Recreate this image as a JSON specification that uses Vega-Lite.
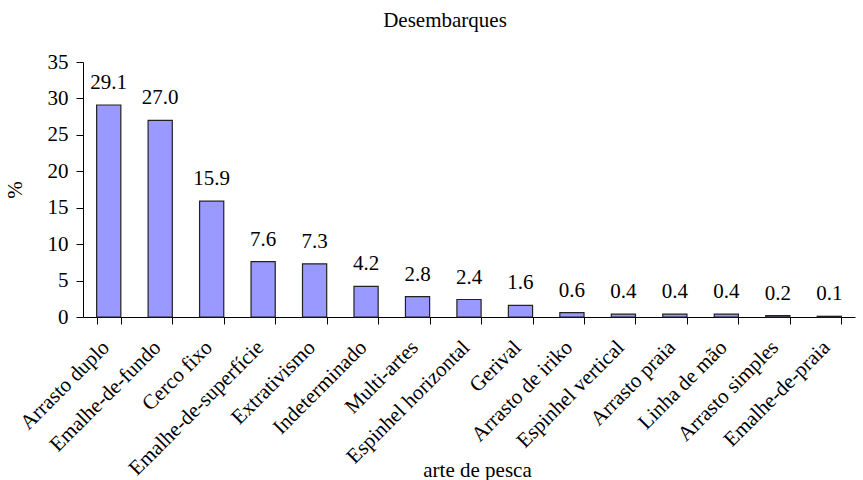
{
  "$schema": "https://vega.github.io/schema/vega-lite/v6.json",
  "autosize": "none",
  "width": 772,
  "height": 255,
  "padding": {"left": 83, "top": 62, "right": 8, "bottom": 163},
  "background": "white",
  "title": {
    "text": "Desembarques",
    "font": "Liberation Serif",
    "fontSize": 21,
    "fontWeight": "normal",
    "color": "black",
    "anchor": "middle",
    "dx": -24,
    "offset": 20
  },
  "config": {
    "view": {"stroke": null},
    "font": "Liberation Serif"
  },
  "data": {
    "values": [
      {"arte": "Arrasto duplo", "pct": 29.1},
      {"arte": "Emalhe-de-fundo", "pct": 27.0},
      {"arte": "Cerco fixo", "pct": 15.9},
      {"arte": "Emalhe-de-superfície", "pct": 7.6},
      {"arte": "Extrativismo", "pct": 7.3},
      {"arte": "Indeterminado", "pct": 4.2},
      {"arte": "Multi-artes", "pct": 2.8},
      {"arte": "Espinhel horizontal", "pct": 2.4},
      {"arte": "Gerival", "pct": 1.6},
      {"arte": "Arrasto de iriko", "pct": 0.6},
      {"arte": "Espinhel vertical", "pct": 0.4},
      {"arte": "Arrasto praia", "pct": 0.4},
      {"arte": "Linha de mão", "pct": 0.4},
      {"arte": "Arrasto simples", "pct": 0.2},
      {"arte": "Emalhe-de-praia", "pct": 0.1}
    ]
  },
  "encoding": {
    "x": {
      "field": "arte",
      "type": "nominal",
      "sort": null,
      "scale": {"paddingInner": 0.53, "paddingOuter": 0.265},
      "axis": {
        "title": "arte de pesca",
        "titleFont": "Liberation Serif",
        "titleFontSize": 21,
        "titleFontWeight": "normal",
        "titleColor": "black",
        "titleX": 394,
        "titleY": 159,
        "titleAlign": "center",
        "titleBaseline": "alphabetic",
        "labelFont": "Liberation Serif",
        "labelFontSize": 21,
        "labelColor": "black",
        "labelAngle": -45,
        "labelAlign": "right",
        "labelBaseline": "middle",
        "labelPadding": 20,
        "labelOffset": -3,
        "labelLimit": 400,
        "tickBand": "extent",
        "tickColor": "black",
        "tickSize": 7,
        "domainColor": "black",
        "labelOverlap": false
      }
    },
    "y": {
      "field": "pct",
      "type": "quantitative",
      "scale": {"domain": [0, 35], "nice": false},
      "axis": {
        "title": "%",
        "titleFont": "Liberation Serif",
        "titleFontSize": 21,
        "titleFontWeight": "normal",
        "titleColor": "black",
        "titlePadding": 22,
        "values": [0, 5, 10, 15, 20, 25, 30, 35],
        "labelFont": "Liberation Serif",
        "labelFontSize": 21,
        "labelColor": "black",
        "labelPadding": 8,
        "tickColor": "black",
        "tickSize": 7,
        "domainColor": "black",
        "grid": false
      }
    }
  },
  "layer": [
    {
      "mark": {"type": "bar", "fill": "#9999FF", "stroke": "#222222", "strokeWidth": 1.2}
    },
    {
      "mark": {
        "type": "text",
        "font": "Liberation Serif",
        "fontSize": 21,
        "color": "black",
        "baseline": "alphabetic",
        "dy": -16
      },
      "encoding": {
        "text": {"field": "pct", "type": "quantitative", "format": ".1f"}
      }
    }
  ]
}
